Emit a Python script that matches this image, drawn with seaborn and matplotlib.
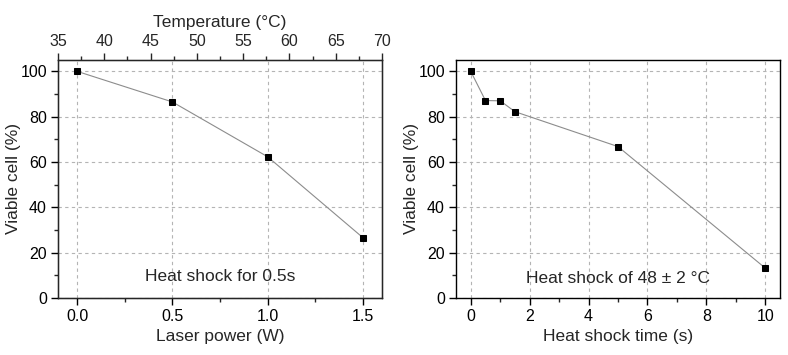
import matplotlib
matplotlib.use("Agg")
import matplotlib.pyplot as plt
import seaborn as sns
from matplotlib.ticker import MultipleLocator, FormatStrFormatter

# data
laser_power = [0.0, 0.5, 1.0, 1.5]
viable_power = [100.0, 86.5, 62.3, 26.6]

shock_time = [0, 0.5, 1.0, 1.5, 5, 10]
viable_time = [100.0, 87.1, 87.0, 82.2, 66.8, 13.2]

sns.set_style("ticks")
plt.rcParams['font.family'] = ['Liberation Sans', 'DejaVu Sans']
plt.rcParams['xtick.direction'] = 'out'
plt.rcParams['ytick.direction'] = 'out'

fig = plt.figure(figsize=(7.88, 3.55), dpi=100)
ax1 = fig.add_axes([0.0736, 0.1606, 0.4112, 0.6704])
ax2 = fig.add_axes([0.5787, 0.1606, 0.4111, 0.6704])

line_kw = dict(color='#8c8c8c', linewidth=0.8, marker='s', markersize=5,
               markerfacecolor='black', markeredgecolor='black')

sns.lineplot(x=laser_power, y=viable_power, ax=ax1, **line_kw)
sns.lineplot(x=shock_time, y=viable_time, ax=ax2, **line_kw)

for ax in (ax1, ax2):
    ax.set_ylim(0, 105)
    ax.yaxis.set_major_locator(MultipleLocator(20))
    ax.yaxis.set_minor_locator(MultipleLocator(10))
    ax.grid(True, which='major', linestyle=(0, (3, 3)), color='#b4b4b4', linewidth=0.8)
    ax.set_axisbelow(True)
    for s in ax.spines.values():
        s.set_visible(True)
        s.set_color('black')
        s.set_linewidth(1.0)
    ax.tick_params(which='major', length=5, width=1, labelsize=11.5, colors='black', pad=3)
    ax.tick_params(which='minor', length=3, width=1)
    ax.set_ylabel('Viable cell (%)', fontsize=12.5)
    ax.yaxis.set_label_coords(-0.115, 0.5)
    ax.xaxis.set_label_coords(0.5, -0.13)

ax1.set_xlim(-0.1, 1.6)
ax1.xaxis.set_major_locator(MultipleLocator(0.5))
ax1.xaxis.set_minor_locator(MultipleLocator(0.25))
ax1.xaxis.set_major_formatter(FormatStrFormatter('%.1f'))
ax1.set_xlabel('Laser power (W)', fontsize=12.5)
ax1.text(0.5, 0.09, 'Heat shock for 0.5s', transform=ax1.transAxes,
         ha='center', va='center', fontsize=12.5)

top = ax1.twiny()
top.set_xlim(35, 70)
top.xaxis.set_major_locator(MultipleLocator(5))
top.xaxis.set_minor_locator(MultipleLocator(2.5))
top.tick_params(which='major', length=5, width=1, labelsize=11.5, pad=3)
top.tick_params(which='minor', length=3, width=1)
top.set_xlabel('Temperature (°C)', fontsize=12.5)
top.xaxis.set_label_coords(0.5, 1.14)
top.grid(False)

ax2.set_xlim(-0.5, 10.5)
ax2.xaxis.set_major_locator(MultipleLocator(2))
ax2.xaxis.set_minor_locator(MultipleLocator(1))
ax2.set_xlabel('Heat shock time (s)', fontsize=12.5)
ax2.text(0.5, 0.08, 'Heat shock of 48 ± 2 °C', transform=ax2.transAxes,
         ha='center', va='center', fontsize=12.5)

fig.savefig('out.png', dpi=100)
